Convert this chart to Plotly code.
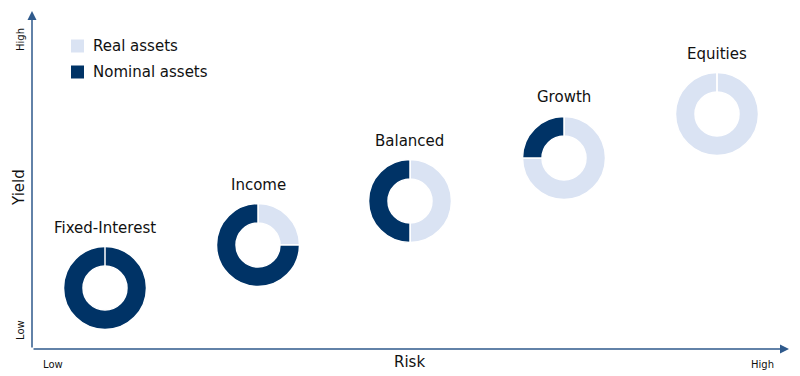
import plotly.graph_objects as go

W, H = 800, 376
OFF = 8  # page body margin of the browser

portfolios = ["Fixed-Interest", "Income", "Balanced", "Growth", "Equities"]
real_share = [0, 25, 50, 75, 100]
nominal_share = [100, 75, 50, 25, 0]
asset_labels = ["Real assets", "Nominal assets"]
asset_colors = ["#dae3f3", "#003366"]

# donut centres (screen pixels) and size
centers_x = [105, 258, 410, 564, 717]
centers_y = [288, 245, 201, 158, 114]
radius = 41.5
hole = 0.53

axis_color = "#2f5a8c"
font_family = "DejaVu Sans, Verdana, sans-serif"
text_color = "#111111"


def px(x):
    return (x - OFF) / W


def py(y):
    return 1 - (y - OFF) / H


fig = go.Figure()
annotations = []
shapes = []

for name, r, n, cx, cy in zip(portfolios, real_share, nominal_share, centers_x, centers_y):
    fig.add_trace(go.Pie(
        labels=asset_labels,
        values=[r, n],
        hole=hole,
        sort=False,
        direction="clockwise",
        rotation=0,
        textinfo="none",
        hoverinfo="label+percent",
        marker=dict(colors=asset_colors, line=dict(color="white", width=1.5)),
        domain=dict(x=[px(cx - radius), px(cx + radius)],
                    y=[py(cy + radius), py(cy - radius)]),
        showlegend=False,
        name=name,
    ))
    # thin seam at 12 o'clock, as in the reference
    if r == 0 or n == 0:
        shapes.append(dict(type="line", xref="paper", yref="paper",
                           x0=px(cx), x1=px(cx),
                           y0=py(cy - radius * hole), y1=py(cy - radius - 1),
                           line=dict(color="white", width=1.5)))
    annotations.append(dict(text=name, x=px(cx), y=py(cy - radius - 19),
                            showarrow=False,
                            font=dict(size=15, color=text_color, family=font_family)))

# axes with arrows
annotations.append(dict(x=px(32), y=py(11), ax=0, ay=338, axref="pixel", ayref="pixel",
                        text="", showarrow=True, arrowhead=2, arrowsize=1.2,
                        arrowwidth=1.5, arrowcolor=axis_color))
annotations.append(dict(x=px(789), y=py(349), ax=-757, ay=0, axref="pixel", ayref="pixel",
                        text="", showarrow=True, arrowhead=2, arrowsize=1.2,
                        arrowwidth=1.5, arrowcolor=axis_color))

# axis titles and ends
annotations += [
    dict(text="Yield", x=px(19), y=py(188), textangle=-90, showarrow=False,
         font=dict(size=15, color=text_color, family=font_family)),
    dict(text="High", x=px(20), y=py(40), textangle=-90, showarrow=False,
         font=dict(size=10, color=text_color, family=font_family)),
    dict(text="Low", x=px(20), y=py(330), textangle=-90, showarrow=False,
         font=dict(size=10, color=text_color, family=font_family)),
    dict(text="Risk", x=px(409), y=py(362), showarrow=False,
         font=dict(size=15, color=text_color, family=font_family)),
    dict(text="Low", x=px(53), y=py(364), showarrow=False,
         font=dict(size=10, color=text_color, family=font_family)),
    dict(text="High", x=px(762), y=py(364), showarrow=False,
         font=dict(size=10, color=text_color, family=font_family)),
]

# legend (drawn manually for spacing)
legend_y = [46, 72]
for lab, col, ly in zip(asset_labels, asset_colors, legend_y):
    shapes.append(dict(type="rect", xref="paper", yref="paper",
                       x0=px(71), x1=px(84), y0=py(ly + 6.5), y1=py(ly - 6.5),
                       fillcolor=col, line=dict(width=0)))
    annotations.append(dict(text=lab, x=px(91), y=py(ly), xanchor="left",
                            showarrow=False,
                            font=dict(size=15, color=text_color, family=font_family)))

for a in annotations:
    a.setdefault("xref", "paper")
    a.setdefault("yref", "paper")
    a.setdefault("xanchor", "center")
    a.setdefault("yanchor", "middle")

fig.update_layout(
    width=W, height=H,
    margin=dict(l=0, r=0, t=0, b=0),
    paper_bgcolor="white", plot_bgcolor="white",
    annotations=annotations, shapes=shapes,
    showlegend=False,
)

fig.write_html("out.html")
